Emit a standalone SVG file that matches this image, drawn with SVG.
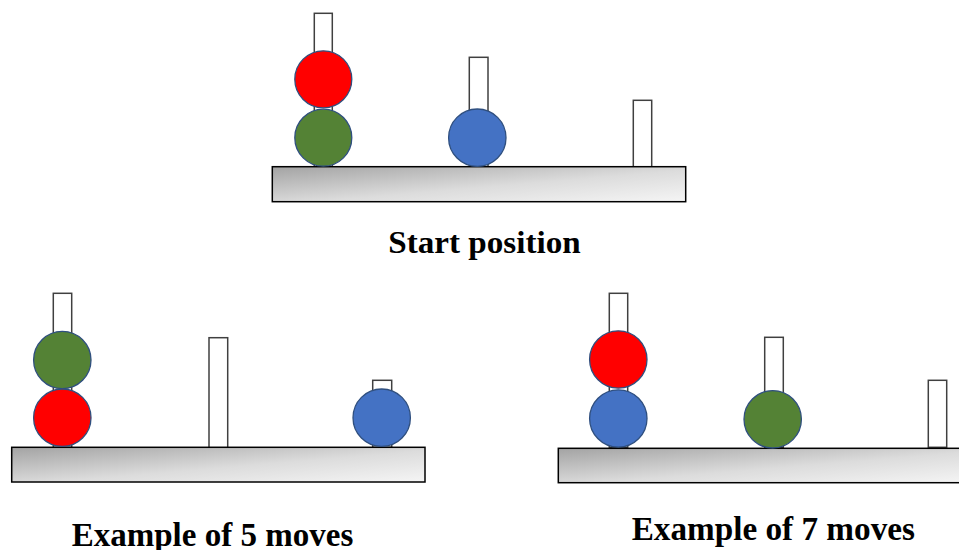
<svg xmlns="http://www.w3.org/2000/svg" width="959" height="550" viewBox="0 0 959 550">
<defs>
<linearGradient id="baseGrad" x1="0" y1="0" x2="1" y2="1">
<stop offset="0" stop-color="#a3a3a3"/>
<stop offset="0.55" stop-color="#dcdcdc"/>
<stop offset="1" stop-color="#f5f5f5"/>
</linearGradient>
<style>
.base{fill:url(#baseGrad);stroke:#000;stroke-width:1.5}
.peg{fill:#fff;stroke:#404040;stroke-width:1.5}
.ball{stroke:#2f4f7f;stroke-width:1.3}
.red{fill:#ff0000}
.green{fill:#548235}
.blue{fill:#4472c4}
.lbl{font-weight:bold;fill:#000;text-anchor:middle}
</style>
</defs>
<rect width="959" height="550" fill="#fff"/>

<g id="start">
<rect class="peg" x="314.3" y="13.3" width="18" height="154"/>
<rect class="peg" x="469.3" y="57.3" width="18.7" height="110"/>
<rect class="peg" x="633.3" y="100.3" width="18.4" height="67"/>
<rect class="base" x="272.3" y="166.7" width="413.4" height="35"/>
<circle class="ball red" cx="323.3" cy="79.3" r="28.5"/>
<circle class="ball green" cx="323.3" cy="137.7" r="28.5"/>
<circle class="ball blue" cx="477.3" cy="137.7" r="28.7"/>
<text class="lbl" font-family="'Liberation Serif', 'Times New Roman', 'DejaVu Serif', serif" x="484.5" y="253.3" font-size="32" textLength="192.4" lengthAdjust="spacingAndGlyphs">Start position</text>
</g>

<g id="five-moves">
<rect class="peg" x="53.3" y="293.3" width="18.4" height="154"/>
<rect class="peg" x="209" y="337.7" width="18.7" height="110"/>
<rect class="peg" x="372.7" y="380.3" width="19" height="67"/>
<rect class="base" x="11.7" y="447.3" width="413.3" height="34.7"/>
<circle class="ball green" cx="62.3" cy="360" r="28.7"/>
<circle class="ball red" cx="62.3" cy="417.7" r="28.7"/>
<circle class="ball blue" cx="381.7" cy="417.7" r="28.7"/>
<text class="lbl" font-family="'Liberation Serif', 'Times New Roman', 'DejaVu Serif', serif" x="212.5" y="546" font-size="33" textLength="281.6" lengthAdjust="spacingAndGlyphs">Example of 5 moves</text>
</g>

<g id="seven-moves">
<rect class="peg" x="609.3" y="293.3" width="18.4" height="154"/>
<rect class="peg" x="764.7" y="337.3" width="18.6" height="110"/>
<rect class="peg" x="928.3" y="380.3" width="18.4" height="67"/>
<rect class="base" x="558.3" y="448.3" width="413.4" height="34.4"/>
<circle class="ball red" cx="618.3" cy="359.5" r="28.7"/>
<circle class="ball blue" cx="618.3" cy="418.5" r="28.7"/>
<circle class="ball green" cx="772.7" cy="419.3" r="28.7"/>
<text class="lbl" font-family="'Liberation Serif', 'Times New Roman', 'DejaVu Serif', serif" x="773.3" y="540" font-size="33" textLength="283.3" lengthAdjust="spacingAndGlyphs">Example of 7 moves</text>
</g>
</svg>
